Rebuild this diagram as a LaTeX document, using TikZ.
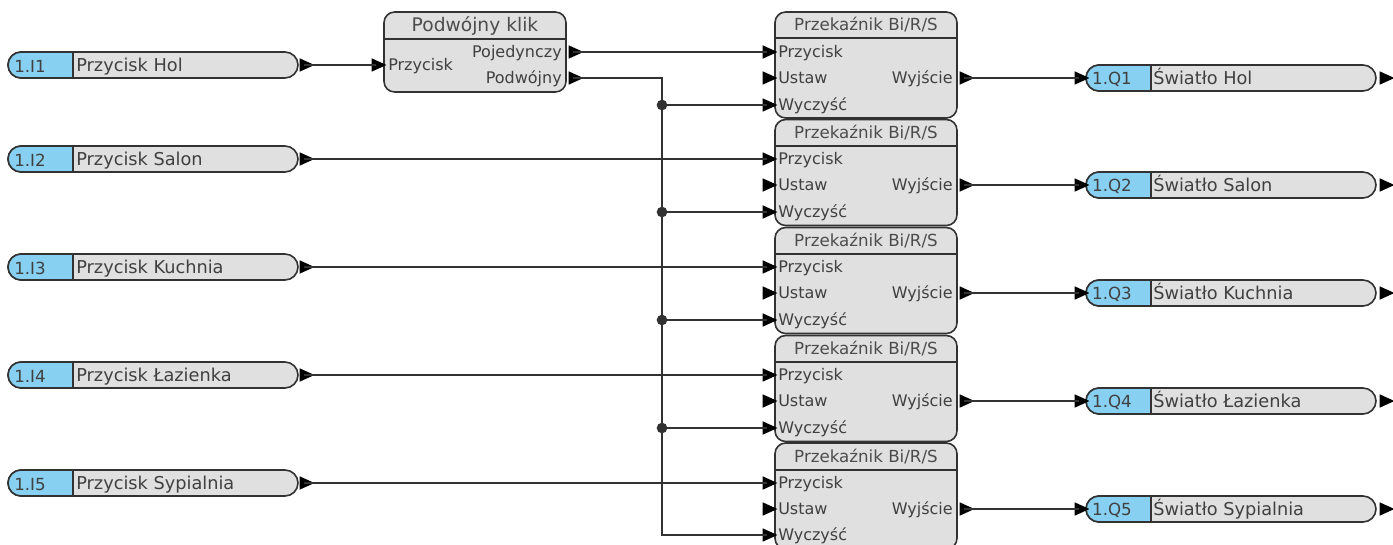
\documentclass[tikz,border=0pt]{standalone}
\usepackage{fontspec}
\setmainfont{DejaVu Sans}
\usetikzlibrary{shapes.geometric,shapes.misc}
\definecolor{pillblue}{RGB}{135,208,242}
\definecolor{boxgray}{RGB}{224,224,224}
\definecolor{wiregray}{RGB}{50,50,50}
\tikzset{
  pillbody/.style={rounded rectangle,draw=wiregray,line width=1.2pt,fill=boxgray,minimum width=217.5pt,minimum height=19.5pt,inner sep=0pt},
  pilltag/.style={rounded rectangle,rounded rectangle right arc=none,draw=wiregray,line width=1.2pt,fill=pillblue,minimum width=48.75pt,minimum height=19.5pt,inner sep=0pt},
  tagtext/.style={inner sep=0pt,yshift=-0.8pt,text=black!75,font=\fontsize{12.5}{12.5}\selectfont},
  pilltext/.style={anchor=west,inner sep=0pt,yshift=-1pt,text height=10pt,text depth=3pt,text=black!75,font=\fontsize{13.3}{13.3}\selectfont},
  relaybox/.style={draw=wiregray,line width=1.2pt,fill=boxgray,rounded corners=8pt,minimum width=136.5pt,minimum height=79.5pt,inner sep=0pt},
  boxhead/.style={inner sep=0pt,text=black!70,font=\fontsize{12.5}{12.5}\selectfont},
  pinin/.style={anchor=west,inner sep=0pt,yshift=-1pt,text height=9pt,text depth=3pt,text=black!75,font=\fontsize{12}{12}\selectfont},
  pinout/.style={anchor=east,inner sep=0pt,yshift=-1pt,text height=9pt,text depth=3pt,text=black!75,font=\fontsize{12}{12}\selectfont},
  port/.style={isosceles triangle,isosceles triangle stretches,fill=black,inner sep=0pt,minimum width=10pt,minimum height=11pt},
  wire/.style={draw=wiregray,line width=1.6pt},
  thinwire/.style={draw=wiregray,line width=1.1pt},
  junction/.style={circle,fill=wiregray,inner sep=0pt,minimum size=8pt},
}
\begin{document}
\begin{tikzpicture}[x=0.75pt,y=0.75pt,yscale=-1,xscale=1]
\useasboundingbox (0,0) rectangle (1393,544);

% Junctions
\coordinate (turnT) at (662,78);
\coordinate (turnB) at (662,535);
\node [junction] (dotA) at (662,105) {};
\node [junction] (dotB) at (662,212) {};
\node [junction] (dotC) at (662,320) {};
\node [junction] (dotD) at (662,428) {};

% Input Pills
\node [pillbody] (pillIa) at (153,65) {};
\node [pillbody] (pillIb) at (153,159) {};
\node [pillbody] (pillIc) at (153,267) {};
\node [pillbody] (pillId) at (153,375) {};
\node [pillbody] (pillIe) at (153,483) {};
\node [pilltag] (tagIa) at (40.5,65) {};
\node [pilltag] (tagIb) at (40.5,159) {};
\node [pilltag] (tagIc) at (40.5,267) {};
\node [pilltag] (tagId) at (40.5,375) {};
\node [pilltag] (tagIe) at (40.5,483) {};
% Text Node
\node [tagtext] (nameIa) at (30,65) {1.I1};
\node [tagtext] (nameIb) at (30,159) {1.I2};
\node [tagtext] (nameIc) at (30,267) {1.I3};
\node [tagtext] (nameId) at (30,375) {1.I4};
\node [tagtext] (nameIe) at (30,483) {1.I5};
\node [pilltext] (textIa) at (76,65) {Przycisk Hol};
\node [pilltext] (textIb) at (76,159) {Przycisk Salon};
\node [pilltext] (textIc) at (76,267) {Przycisk Kuchnia};
\node [pilltext] (textId) at (76,375) {Przycisk Łazienka};
\node [pilltext] (textIe) at (76,483) {Przycisk Sypialnia};
% Input Pill Ports
\node [port] (outIa) at (304,65) {};
\node [port] (outIb) at (304,159) {};
\node [port] (outIc) at (304,267) {};
\node [port] (outId) at (304,375) {};
\node [port] (outIe) at (304,483) {};

% Double Click Block
\node [relaybox,minimum height=60pt] (dblclick) at (475,52) {};
\draw [wiregray,line width=1.2pt] (384,39) -- (566,39);
\node [boxhead,font=\fontsize{14}{14}\selectfont] (dblhead) at (475,26) {Podwójny klik};
\node [pinin] (dblpin) at (388,65) {Przycisk};
\node [pinout] (dblone) at (562,52) {Pojedynczy};
\node [pinout] (dbltwo) at (562,78) {Podwójny};
\node [port] (dblIn) at (376,65) {};
\node [port] (dblOutA) at (573,52) {};
\node [port] (dblOutB) at (573,78) {};

% Relay Blocks
\node [relaybox] (relayA) at (866,65) {};
\node [relaybox] (relayB) at (866,172.5) {};
\node [relaybox] (relayC) at (866,280.5) {};
\node [relaybox] (relayD) at (866,388.5) {};
\node [relaybox] (relayE) at (866,496) {};
\draw [wiregray,line width=1.2pt] (775,38) -- (957,38);
\draw [wiregray,line width=1.2pt] (775,146) -- (957,146);
\draw [wiregray,line width=1.2pt] (775,254) -- (957,254);
\draw [wiregray,line width=1.2pt] (775,362) -- (957,362);
\draw [wiregray,line width=1.2pt] (775,470) -- (957,470);
% Text Node
\node [boxhead] (headA) at (866,25) {Przekaźnik Bi/R/S};
\node [boxhead] (headB) at (866,133) {Przekaźnik Bi/R/S};
\node [boxhead] (headC) at (866,241) {Przekaźnik Bi/R/S};
\node [boxhead] (headD) at (866,349) {Przekaźnik Bi/R/S};
\node [boxhead] (headE) at (866,457) {Przekaźnik Bi/R/S};
\node [pinin] (pinAa) at (778,52) {Przycisk};
\node [pinin] (pinAb) at (778,78) {Ustaw};
\node [pinin] (pinAc) at (778,105) {Wyczyść};
\node [pinout] (pinAd) at (953,78) {Wyjście};
\node [pinin] (pinBa) at (778,159) {Przycisk};
\node [pinin] (pinBb) at (778,185) {Ustaw};
\node [pinin] (pinBc) at (778,212) {Wyczyść};
\node [pinout] (pinBd) at (953,185) {Wyjście};
\node [pinin] (pinCa) at (778,267) {Przycisk};
\node [pinin] (pinCb) at (778,293) {Ustaw};
\node [pinin] (pinCc) at (778,320) {Wyczyść};
\node [pinout] (pinCd) at (953,293) {Wyjście};
\node [pinin] (pinDa) at (778,375) {Przycisk};
\node [pinin] (pinDb) at (778,401) {Ustaw};
\node [pinin] (pinDc) at (778,428) {Wyczyść};
\node [pinout] (pinDd) at (953,401) {Wyjście};
\node [pinin] (pinEa) at (778,483) {Przycisk};
\node [pinin] (pinEb) at (778,509) {Ustaw};
\node [pinin] (pinEc) at (778,535) {Wyczyść};
\node [pinout] (pinEd) at (953,509) {Wyjście};
% Relay Ports
\node [port] (inAa) at (767,52) {};
\node [port] (inAb) at (767,78) {};
\node [port] (inAc) at (767,105) {};
\node [port] (outA) at (964,78) {};
\node [port] (inBa) at (767,159) {};
\node [port] (inBb) at (767,185) {};
\node [port] (inBc) at (767,212) {};
\node [port] (outB) at (964,185) {};
\node [port] (inCa) at (767,267) {};
\node [port] (inCb) at (767,293) {};
\node [port] (inCc) at (767,320) {};
\node [port] (outC) at (964,293) {};
\node [port] (inDa) at (767,375) {};
\node [port] (inDb) at (767,401) {};
\node [port] (inDc) at (767,428) {};
\node [port] (outD) at (964,401) {};
\node [port] (inEa) at (767,483) {};
\node [port] (inEb) at (767,509) {};
\node [port] (inEc) at (767,535) {};
\node [port] (outE) at (964,509) {};

% Output Pills
\node [pillbody] (pillQa) at (1231,78) {};
\node [pillbody] (pillQb) at (1231,185) {};
\node [pillbody] (pillQc) at (1231,293) {};
\node [pillbody] (pillQd) at (1231,401) {};
\node [pillbody] (pillQe) at (1231,509) {};
\node [pilltag] (tagQa) at (1118.5,78) {};
\node [pilltag] (tagQb) at (1118.5,185) {};
\node [pilltag] (tagQc) at (1118.5,293) {};
\node [pilltag] (tagQd) at (1118.5,401) {};
\node [pilltag] (tagQe) at (1118.5,509) {};
% Text Node
\node [tagtext] (nameQa) at (1112,78) {1.Q1};
\node [tagtext] (nameQb) at (1112,185) {1.Q2};
\node [tagtext] (nameQc) at (1112,293) {1.Q3};
\node [tagtext] (nameQd) at (1112,401) {1.Q4};
\node [tagtext] (nameQe) at (1112,509) {1.Q5};
\node [pilltext] (textQa) at (1153,78) {Światło Hol};
\node [pilltext] (textQb) at (1153,185) {Światło Salon};
\node [pilltext] (textQc) at (1153,293) {Światło Kuchnia};
\node [pilltext] (textQd) at (1153,401) {Światło Łazienka};
\node [pilltext] (textQe) at (1153,509) {Światło Sypialnia};
% Output Pill Ports
\node [port] (inQa) at (1079,78) {};
\node [port] (inQb) at (1079,185) {};
\node [port] (inQc) at (1079,293) {};
\node [port] (inQd) at (1079,401) {};
\node [port] (inQe) at (1079,509) {};
\node [port] (endQa) at (1384,78) {};
\node [port] (endQb) at (1384,185) {};
\node [port] (endQc) at (1384,293) {};
\node [port] (endQd) at (1384,401) {};
\node [port] (endQe) at (1384,509) {};

%Straight Lines
\draw [wire] (outIa.center) -- (dblIn.center);
\draw [wire] (dblOutA.center) -- (inAa.center);
\draw [wire] (dblOutB.center) -- (turnT) -- (turnB) -- (inEc.center);
\draw [wire] (dotA.center) -- (inAc.center);
\draw [wire] (dotB.center) -- (inBc.center);
\draw [wire] (dotC.center) -- (inCc.center);
\draw [wire] (dotD.center) -- (inDc.center);
\draw [thinwire] (outIb.center) -- (inBa.center);
\draw [thinwire] (outIc.center) -- (inCa.center);
\draw [thinwire] (outId.center) -- (inDa.center);
\draw [thinwire] (outIe.center) -- (inEa.center);
\draw [wire] (outA.center) -- (inQa.center);
\draw [wire] (outB.center) -- (inQb.center);
\draw [wire] (outC.center) -- (inQc.center);
\draw [wire] (outD.center) -- (inQd.center);
\draw [wire] (outE.center) -- (inQe.center);
\end{tikzpicture}
\end{document}
